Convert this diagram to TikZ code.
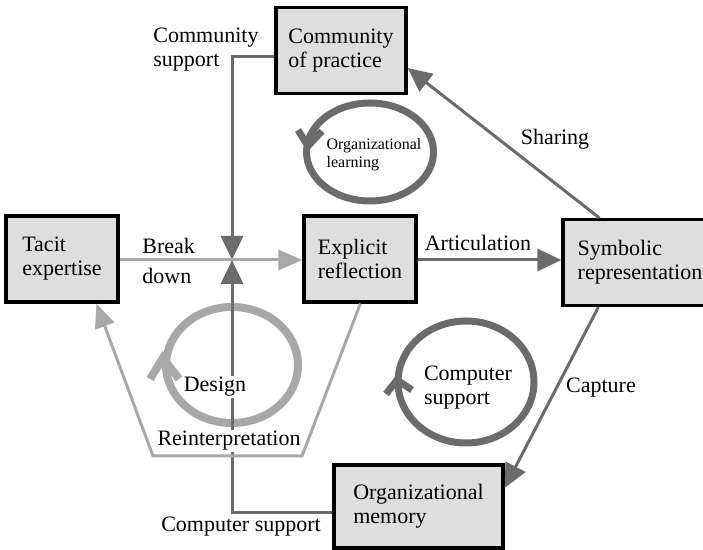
\documentclass[tikz,border=0pt]{standalone}
\usepackage{fontspec}
\setmainfont{Liberation Serif}
\usetikzlibrary{arrows.meta}
\colorlet{darkln}{black!58}
\colorlet{lightln}{black!34}
\colorlet{boxfill}{black!13}

\begin{document}
\begin{tikzpicture}[x=0.5pt,y=-0.5pt,font=\fontsize{11}{12}\selectfont,
	stage/.style={draw=black,fill=boxfill,line width=1.6pt,align=left,minimum height=43pt,inner sep=0pt},
	darkarr/.style={draw=darkln,line width=1.5pt,-{Triangle[length=12pt,width=11pt]}},
	lightarr/.style={draw=lightln,line width=1.5pt,-{Triangle[length=12pt,width=10pt]}},
	lbl/.style={inner sep=0.5pt,align=left}]
	\useasboundingbox (0,0) rectangle (703,550);
	\clip (0,0) rectangle (703,550);

	%BOXES
	\node[stage,minimum width=65pt] (comm) at (341,50.5) {Community\\of practice};
	\node[stage,minimum width=56pt] (tacit) at (62,259) {Tacit\\expertise};
	\node[stage,minimum width=56pt] (expl) at (360,259) {Explicit\\reflection};
	\node[stage,minimum width=77pt] (symb) at (640,262.5) {Symbolic\\representation};
	\node[stage,minimum width=84.5pt,minimum height=41.5pt] (orgmem) at (418.5,506.5) {Organizational\\memory};
	\coordinate (hub) at (232,260);

	%CYCLES
	\draw[darkln,line width=3.5pt] (370,152) ellipse [x radius=31.75pt,y radius=24.5pt];
	\draw[darkln,line width=3.5pt] (298,130) -- (308,146) -- (322,131);
	\draw[lightln,line width=4pt] (232,365) ellipse [x radius=33pt,y radius=29pt];
	\draw[lightln,line width=4pt] (150,379) -- (163,358) -- (179,379);
	\draw[darkln,line width=3.5pt] (466,382) ellipse [x radius=34pt,y radius=30.5pt];
	\draw[darkln,line width=3.5pt] (386,394) -- (397,380) -- (412,390);

	%CONNECTORS
	\draw[darkarr] ([yshift=-3.25pt]orgmem.west) -| (hub);
	\node[lbl,fill=white] (deslbl) at (215,387) {Design};
	\node[lbl,fill=white] (reilbl) at (229,441) {Reinterpretation};
	\draw[darkarr] ([yshift=-3.25pt]comm.west) -| (hub);
	\draw[lightarr] (tacit.east |- hub) -- (expl.west |- hub);
	\draw[darkarr] (expl.east |- hub) -- (symb.west |- hub);
	\draw[darkarr] ([xshift=19pt]symb.north west) -- ([yshift=-8.75pt]comm.east);
	\draw[darkarr] ([xshift=18.5pt]symb.south west) -- ([yshift=9.25pt]orgmem.east);
	\coordinate (rb) at (302,456);
	\coordinate (lb) at (153,456);
	\draw[lightarr] ([xshift=29pt]expl.south west) -- (rb) -- (lb) -- ([xshift=46pt]tacit.south west);

	%LABELS
	\node[lbl,anchor=west] (csuplbl) at (152,50) {Community\\support};
	\node[lbl,anchor=west] (brklbl) at (141,261) {Break\\[3pt]down};
	\node[lbl] (artlbl) at (478,243) {Articulation};
	\node[lbl] (shrlbl) at (555,139) {Sharing};
	\node[lbl] (caplbl) at (601,388) {Capture};
	\node[lbl] (cs2lbl) at (241,527) {Computer support};
	\node[lbl] (cs1lbl) at (468,388) {Computer\\support};
	\node[lbl,font=\fontsize{8}{9}\selectfont] (ollbl) at (374,155) {Organizational\\learning};
\end{tikzpicture}
\end{document}
